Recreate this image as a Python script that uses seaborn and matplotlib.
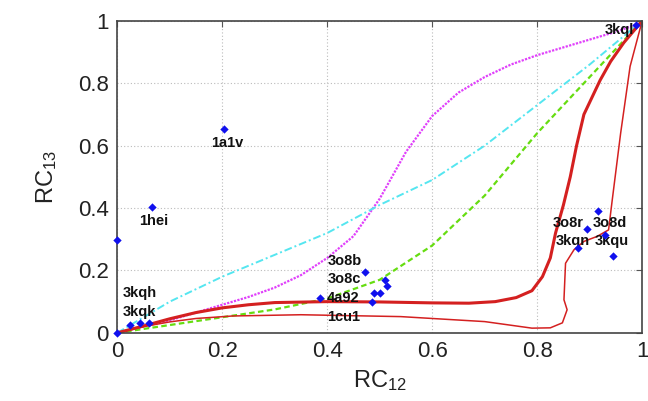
import seaborn as sns
import matplotlib.pyplot as plt
import pandas as pd
import numpy as np

# Curves
mag_x = [0, 0.05, 0.1, 0.15, 0.2, 0.25, 0.3, 0.35, 0.4, 0.45, 0.5, 0.55, 0.6, 0.65, 0.7,
         0.75, 0.8, 0.85, 0.9, 0.95, 1.0]
mag_y = [0, 0.02, 0.04, 0.065, 0.09, 0.115, 0.145, 0.185, 0.24, 0.31, 0.43, 0.58, 0.695, 0.77,
         0.82, 0.86, 0.89, 0.915, 0.94, 0.965, 0.995]

cyan_x = [0, 0.1, 0.2, 0.3, 0.4, 0.5, 0.6, 0.7, 0.8, 0.9, 1.0]
cyan_y = [0, 0.1, 0.18, 0.25, 0.32, 0.41, 0.49, 0.6, 0.73, 0.86, 1.0]

green_x = [0, 0.1, 0.2, 0.3, 0.4, 0.5, 0.6, 0.7, 0.8, 0.9, 1.0]
green_y = [0, 0.025, 0.05, 0.075, 0.11, 0.17, 0.28, 0.44, 0.64, 0.82, 1.0]

red_thick_x = [0, 0.05, 0.1, 0.15, 0.2, 0.25, 0.3, 0.4, 0.5, 0.6, 0.67, 0.72, 0.76, 0.79,
               0.81, 0.825, 0.835, 0.85, 0.863, 0.875, 0.889, 0.92, 0.94, 0.965, 1.0]
red_thick_y = [0, 0.022, 0.045, 0.065, 0.08, 0.09, 0.097, 0.1, 0.099, 0.096, 0.095, 0.1, 0.113,
               0.135, 0.18, 0.24, 0.32, 0.41, 0.50, 0.6, 0.70, 0.81, 0.87, 0.93, 1.0]

red_thin_x = [0, 0.05, 0.1, 0.15, 0.22, 0.35, 0.54, 0.7, 0.79, 0.825, 0.848, 0.857, 0.851,
              0.854, 0.87, 0.889, 0.914, 0.936, 0.943, 0.959, 0.977, 1.0]
red_thin_y = [0, 0.02, 0.035, 0.046, 0.054, 0.058, 0.052, 0.036, 0.015, 0.016, 0.032, 0.074,
              0.106, 0.223, 0.266, 0.293, 0.309, 0.33, 0.426, 0.64, 0.854, 1.0]

# Structures
pts_x = [0, 0, 0.025, 0.044, 0.06, 0.067, 0.204, 0.387, 0.472, 0.51, 0.514, 0.50, 0.49, 0.486,
         0.915, 0.895, 0.93, 0.877, 0.945, 0.989]
pts_y = [0, 0.298, 0.026, 0.031, 0.033, 0.402, 0.653, 0.111, 0.195, 0.17, 0.151, 0.127, 0.127,
         0.10, 0.389, 0.332, 0.314, 0.271, 0.245, 0.987]

labels = ["1hei", "1a1v", "3kqh", "3kqk", "3o8b", "3o8c", "4a92", "1cu1",
          "3o8r", "3o8d", "3kqn", "3kqu", "3kql"]
lab_x = [0.07, 0.21, 0.01, 0.01, 0.40, 0.40, 0.40, 0.40, 0.86, 0.938, 0.867, 0.943, 0.956]
lab_y = [0.36, 0.61, 0.127, 0.068, 0.229, 0.172, 0.112, 0.051, 0.352, 0.352, 0.293, 0.293, 0.97]
lab_ha = ["center", "center", "left", "left", "left", "left", "left", "left",
          "center", "center", "center", "center", "center"]

sns.set_style("white")
plt.rcParams["font.family"] = ["Liberation Sans", "DejaVu Sans"]
plt.rcParams["mathtext.fontset"] = "custom"
plt.rcParams["mathtext.rm"] = "Liberation Sans"
plt.rcParams["mathtext.it"] = "Liberation Sans:italic"

fig = plt.figure(figsize=(6.48, 4.01), dpi=100)
ax = fig.add_axes([0.181, 0.170, 0.810, 0.778])

sns.lineplot(x=mag_x, y=mag_y, ax=ax, color="#e040fb", lw=1.6, linestyle=(0, (1, 0.6)), sort=False)
sns.lineplot(x=cyan_x, y=cyan_y, ax=ax, color="#55e6f0", lw=1.4, linestyle=(0, (4, 1.5, 1, 1.5)), sort=False)
sns.lineplot(x=green_x, y=green_y, ax=ax, color="#66dd11", lw=1.6, linestyle=(0, (2.5, 1.5)), sort=False)
sns.lineplot(x=red_thick_x, y=red_thick_y, ax=ax, color="#d42020", lw=2.2, sort=False)
sns.lineplot(x=red_thin_x, y=red_thin_y, ax=ax, color="#d42020", lw=1.1, sort=False)

sns.scatterplot(x=pts_x, y=pts_y, ax=ax, color="#1010ee", marker="D", s=18, linewidth=0,
                zorder=5, clip_on=False)

for t, x, y, ha in zip(labels, lab_x, lab_y, lab_ha):
    ax.text(x, y, t, ha=ha, va="center", fontsize=10.5, fontweight="bold", color="#111111")

ax.set_xlim(0, 1)
ax.set_ylim(0, 1)
ticks = [0, 0.2, 0.4, 0.6, 0.8, 1]
tick_labels = ["0", "0.2", "0.4", "0.6", "0.8", "1"]
ax.set_xticks(ticks)
ax.set_xticklabels(tick_labels)
ax.set_yticks(ticks)
ax.set_yticklabels(tick_labels)
ax.tick_params(direction="in", length=4, top=True, right=True, labelsize=16,
               color="#555555", labelcolor="#222222", pad=6)
ax.grid(True, color="#bbbbbb", linestyle=(0, (1, 2)), lw=0.8)
for s in ax.spines.values():
    s.set_color("#444444")
    s.set_linewidth(1.2)

ax.set_xlabel("RC$_{\\mathrm{12}}$", fontsize=17, color="#222222", labelpad=4)
ax.set_ylabel("RC$_{\\mathrm{13}}$", fontsize=17, color="#222222", labelpad=14)

plt.savefig("out.png", dpi=100)
